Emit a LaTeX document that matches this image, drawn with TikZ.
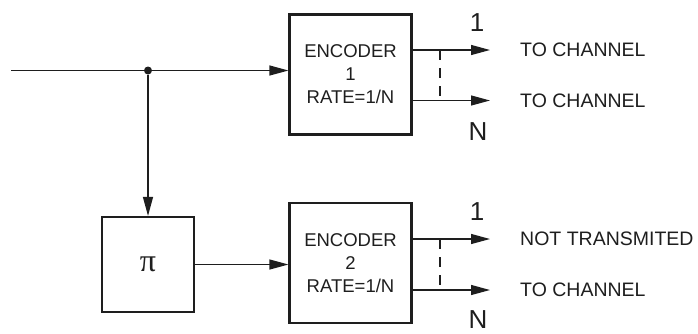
\documentclass[tikz,border=0pt]{standalone}
\usepackage{fontspec}
\setmainfont{Liberation Sans}
\newfontfamily\pifont{Liberation Serif}
\usetikzlibrary{arrows.meta}
\definecolor{ink}{HTML}{1E1E1E}
\begin{document}
\begin{tikzpicture}[x=1pt,y=-1pt,
  line/.style={line width=1.2pt, draw=ink},
  arr/.style={line, -{Triangle[length=19pt,width=10pt]}},
  blk/.style={draw=ink, line width=2.2pt, inner sep=0pt, text=ink},
  enc/.style={blk, minimum width=122pt, minimum height=120pt, align=center,
    font=\fontsize{18.5}{23}\selectfont},
  lab/.style={anchor=west, inner sep=0pt, text=ink, font=\fontsize{19.5}{23}\selectfont},
  num/.style={inner sep=0pt, text=ink, font=\fontsize{26}{30}\selectfont},
  dash10/.style={line, dash pattern=on 10pt off 8pt}]
\useasboundingbox (0,0) rectangle (698,333);

% blocks
\node[enc] (enc1) at (350.5,74.5) {ENCODER\\1\\RATE=1/N};
\node[enc] (enc2) at (350.5,263) {ENCODER\\2\\RATE=1/N};
\node[blk, minimum width=92pt, minimum height=95pt,
      font=\pifont\fontsize{32}{32}\selectfont] (pi) at (148,264.5) {π};

% input and branch
\coordinate (in) at (11,70.5);
\node[circle, fill=ink, inner sep=0pt, minimum size=8pt] (dot) at (148,70.5) {};
\draw[line] (in) -- (dot);
\draw[arr] (dot) -- (enc1.west |- dot);
\draw[arr] (dot) -- (pi.north);
\draw[arr] (pi.east) -- (enc2.west |- pi.east);

% encoder 1 outputs
\coordinate (o11) at (490,50);
\coordinate (o1n) at (490,100.5);
\coordinate (d11) at (440,50);
\coordinate (d1n) at (440,100.5);
\draw[arr] (enc1.east |- o11) -- (o11);
\draw[arr] (enc1.east |- o1n) -- (o1n);
\draw[dash10] (d11) -- (d1n);
\node[num] (n11) at (477,22.5) {1};
\node[num] (n1n) at (478,131.5) {N};
\node[lab] (c11) at (520,50) {TO CHANNEL};
\node[lab] (c1n) at (520,100.5) {TO CHANNEL};

% encoder 2 outputs
\coordinate (o21) at (490,239);
\coordinate (o2n) at (490,290);
\coordinate (d21) at (440,239);
\coordinate (d2n) at (440,290);
\draw[arr] (enc2.east |- o21) -- (o21);
\draw[arr] (enc2.east |- o2n) -- (o2n);
\draw[dash10] (d21) -- (d2n);
\node[num] (n21) at (477,211.5) {1};
\node[num] (n2n) at (478,319.5) {N};
\node[lab] (c21) at (520,239) {NOT TRANSMITED};
\node[lab] (c2n) at (520,290) {TO CHANNEL};
\end{tikzpicture}
\end{document}
